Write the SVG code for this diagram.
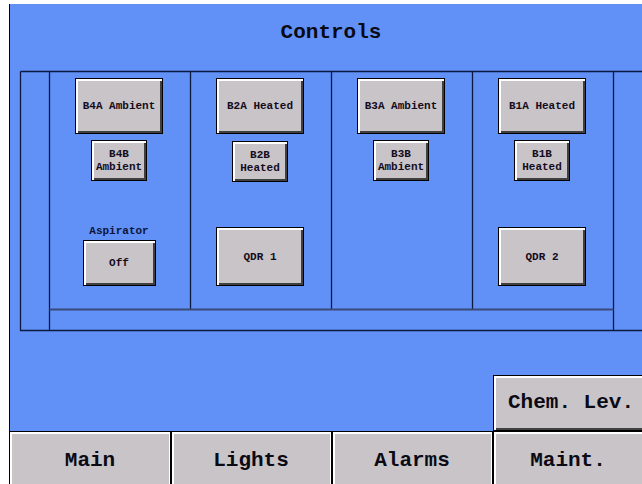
<svg xmlns="http://www.w3.org/2000/svg" width="642" height="484" viewBox="0 0 642 484">
<defs>
<style>
.lbl{font-family:"Liberation Mono","DejaVu Sans Mono",monospace;font-weight:bold;font-size:11px;fill:#140c1c;text-anchor:middle}
.big{font-family:"Liberation Mono","DejaVu Sans Mono",monospace;font-weight:bold;font-size:21px;fill:#0a0a14;text-anchor:middle}
.frame{stroke:#0c1a40;stroke-width:1.3;fill:none}
.b0{fill:#000}
.b1{fill:#ffffff}
.b2{fill:#404040}
.b3{fill:#c8c4c8}
</style>
</defs>
<rect x="0" y="0" width="642" height="484" fill="#ffffff"/>
<rect x="9" y="4" width="633" height="480" fill="#6191f7"/>
<line x1="9.5" y1="4" x2="9.5" y2="484" stroke="#000" stroke-width="1"/>
<text class="big" x="331" y="38" style="font-weight:bold">Controls</text>

<g id="connectors">
<path class="frame" d="M20.5,71.5 H642 M20.5,71.5 V330.5 H642 M49.5,71.5 V330.5 M613.5,71.5 V330.5 M190.5,71.5 V309.5 M331.5,71.5 V309.5 M472.5,71.5 V309.5"/>
<line x1="49.5" y1="309.5" x2="613.5" y2="309.5" stroke="#3a4a78" stroke-width="2"/>
</g>

<g id="b4a">
<rect class="b0" x="75" y="78" width="88" height="56"/><rect class="b1" x="76" y="79" width="86" height="54"/><rect class="b2" x="78" y="81" width="84" height="52"/><rect class="b3" x="78" y="81" width="82" height="50"/>
<text class="lbl" x="119" y="109">B4A Ambient</text>
</g>
<g id="b4b">
<rect class="b0" x="91" y="140" width="56" height="41"/><rect class="b1" x="92" y="141" width="54" height="39"/><rect class="b2" x="94" y="143" width="52" height="37"/><rect class="b3" x="94" y="143" width="50" height="35"/>
<text class="lbl" x="119" y="157">B4B</text><text class="lbl" x="119" y="170">Ambient</text>
</g>
<g id="b2a">
<rect class="b0" x="216" y="78" width="88" height="56"/><rect class="b1" x="217" y="79" width="86" height="54"/><rect class="b2" x="219" y="81" width="84" height="52"/><rect class="b3" x="219" y="81" width="82" height="50"/>
<text class="lbl" x="260" y="109">B2A Heated</text>
</g>
<g id="b2b">
<rect class="b0" x="232" y="141" width="56" height="41"/><rect class="b1" x="233" y="142" width="54" height="39"/><rect class="b2" x="235" y="144" width="52" height="37"/><rect class="b3" x="235" y="144" width="50" height="35"/>
<text class="lbl" x="260" y="158">B2B</text><text class="lbl" x="260" y="171">Heated</text>
</g>
<g id="b3a">
<rect class="b0" x="357" y="78" width="88" height="56"/><rect class="b1" x="358" y="79" width="86" height="54"/><rect class="b2" x="360" y="81" width="84" height="52"/><rect class="b3" x="360" y="81" width="82" height="50"/>
<text class="lbl" x="401" y="109">B3A Ambient</text>
</g>
<g id="b3b">
<rect class="b0" x="373" y="140" width="56" height="41"/><rect class="b1" x="374" y="141" width="54" height="39"/><rect class="b2" x="376" y="143" width="52" height="37"/><rect class="b3" x="376" y="143" width="50" height="35"/>
<text class="lbl" x="401" y="157">B3B</text><text class="lbl" x="401" y="170">Ambient</text>
</g>
<g id="b1a">
<rect class="b0" x="498" y="78" width="88" height="56"/><rect class="b1" x="499" y="79" width="86" height="54"/><rect class="b2" x="501" y="81" width="84" height="52"/><rect class="b3" x="501" y="81" width="82" height="50"/>
<text class="lbl" x="542" y="109">B1A Heated</text>
</g>
<g id="b1b">
<rect class="b0" x="514" y="140" width="56" height="41"/><rect class="b1" x="515" y="141" width="54" height="39"/><rect class="b2" x="517" y="143" width="52" height="37"/><rect class="b3" x="517" y="143" width="50" height="35"/>
<text class="lbl" x="542" y="157">B1B</text><text class="lbl" x="542" y="170">Heated</text>
</g>
<g id="aspirator">
<text class="lbl" x="119" y="234" style="fill:#0c1438">Aspirator</text>
<rect class="b0" x="83" y="240" width="73" height="46"/><rect class="b1" x="84" y="241" width="71" height="44"/><rect class="b2" x="86" y="243" width="69" height="42"/><rect class="b3" x="86" y="243" width="67" height="40"/>
<text class="lbl" x="119" y="266">Off</text>
</g>
<g id="qdr1">
<rect class="b0" x="216" y="227" width="88" height="59"/><rect class="b1" x="217" y="228" width="86" height="57"/><rect class="b2" x="219" y="230" width="84" height="55"/><rect class="b3" x="219" y="230" width="82" height="53"/>
<text class="lbl" x="260" y="260">QDR 1</text>
</g>
<g id="qdr2">
<rect class="b0" x="498" y="227" width="88" height="59"/><rect class="b1" x="499" y="228" width="86" height="57"/><rect class="b2" x="501" y="230" width="84" height="55"/><rect class="b3" x="501" y="230" width="82" height="53"/>
<text class="lbl" x="542" y="260">QDR 2</text>
</g>

<g id="chem">
<rect class="b0" x="493" y="375" width="149" height="56"/><rect class="b1" x="494" y="376" width="148" height="54"/><rect class="b2" x="496" y="378" width="146" height="52"/><rect class="b3" x="496" y="378" width="146" height="50"/>
<text class="big" x="571" y="408">Chem. Lev.</text>
</g>
<g id="tabs">
<rect x="9" y="431" width="633" height="53" fill="#000"/>
<g id="tab-main"><rect class="b1" x="10" y="432" width="160" height="52"/><rect class="b3" x="12" y="434" width="157" height="50"/><text class="big" x="90" y="466">Main</text></g>
<g id="tab-lights"><rect class="b1" x="172" y="432" width="159" height="52"/><rect class="b3" x="174" y="434" width="156" height="50"/><text class="big" x="251" y="466">Lights</text></g>
<g id="tab-alarms"><rect class="b1" x="333" y="432" width="159" height="52"/><rect class="b3" x="335" y="434" width="156" height="50"/><text class="big" x="412" y="466">Alarms</text></g>
<g id="tab-maint"><rect class="b1" x="494" y="432" width="148" height="52"/><rect class="b3" x="496" y="434" width="146" height="50"/><text class="big" x="568" y="466">Maint.</text></g>
</g>
</svg>
